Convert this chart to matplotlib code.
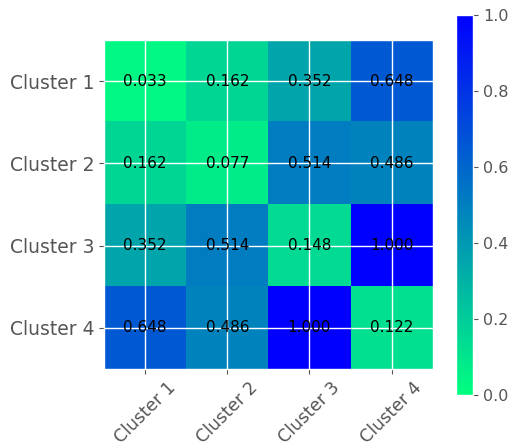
import matplotlib.pyplot as plt
import numpy as np

plt.style.use('ggplot')

# cluster labels and pairwise distance matrix
labels = ['Cluster 1', 'Cluster 2', 'Cluster 3', 'Cluster 4']
row1 = [0.033, 0.162, 0.352, 0.648]
row2 = [0.162, 0.077, 0.514, 0.486]
row3 = [0.352, 0.514, 0.148, 1.000]
row4 = [0.648, 0.486, 1.000, 0.122]
dist = np.array([row1, row2, row3, row4])

fig = plt.figure(figsize=(5.16, 4.48), dpi=100)
ax = fig.add_axes([0.2016, 0.176, 0.637, 0.735])
cax = fig.add_axes([0.884, 0.118, 0.033, 0.849])

im = ax.imshow(dist, cmap='winter_r', vmin=0, vmax=1, aspect='auto')

# print the value in each cell
for i in range(len(labels)):
    for j in range(len(labels)):
        ax.text(j, i, '%.3f' % dist[i, j], ha='center', va='center',
                color='black', fontsize=11)

ax.set_xticks(range(len(labels)))
ax.set_yticks(range(len(labels)))
ax.set_xticklabels(labels, rotation=45, fontsize=12.5)
ax.set_yticklabels(labels, fontsize=13.5)
ax.grid(True, color='white', linewidth=1)

cb = fig.colorbar(im, cax=cax)
cb.outline.set_edgecolor('white')
cb.ax.tick_params(labelsize=11.5)

plt.savefig('out.png')
